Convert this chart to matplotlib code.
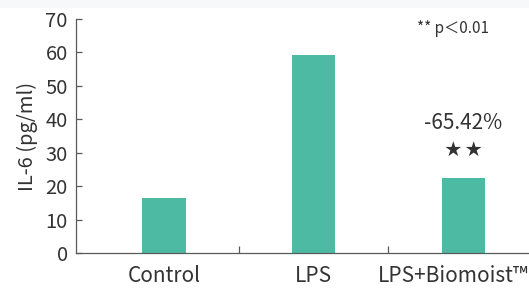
import numpy as np
import matplotlib
matplotlib.use('Agg')
import matplotlib.pyplot as plt
import matplotlib.transforms as mtransforms

plt.rcParams['font.family'] = ['Noto Sans CJK SC', 'DejaVu Sans']

# data
groups = ['Control', 'LPS', 'LPS+Biomoist\u2122']
il6 = [16.4, 59.1, 22.4]
y_ticks = [0, 10, 20, 30, 40, 50, 60, 70]
change_txt = '-65.42%'
sig_txt = '\u2605 \u2605'
note_txt = '** p\uff1c0.01'

bar_col = '#4dbba3'
txt_col = '#333333'
axis_col = '#595959'

fig = plt.figure(figsize=(5.29, 2.88), dpi=100)
fig.patch.set_facecolor('white')
# faint grey strip at the very top
fig.patches.append(plt.Rectangle((0, 0.972), 1, 0.028, transform=fig.transFigure,
                                 facecolor='#f7f8fa', edgecolor='none', zorder=0))

ax = fig.add_axes([0.1437, 0.1215, 0.8563, 0.8125])
x = np.arange(len(groups))
ax.bar(x, il6, width=0.29, color=bar_col, zorder=2)

ax.set_xlim(-0.589, 2.44)
ax.set_ylim(0, 70)
ax.set_yticks(y_ticks)
ax.set_xticks(x)
ax.set_xticklabels(groups)
# category separators on the x axis
ax.set_xticks([0.5, 1.5], minor=True)
ax.tick_params(axis='x', which='major', length=0, pad=8.5, labelsize=15, labelcolor=txt_col)
ax.tick_params(axis='x', which='minor', direction='in', length=5, width=0.9, color=axis_col)
ax.tick_params(axis='y', direction='in', length=4, width=0.9, color=axis_col,
               pad=6, labelsize=14.5, labelcolor=txt_col)

for s in ['top', 'right']:
    ax.spines[s].set_visible(False)
for s in ['left', 'bottom']:
    ax.spines[s].set_color(axis_col)
    ax.spines[s].set_linewidth(0.9)

ax.set_ylabel('IL-6 (pg/ml)', fontsize=14.5, color=txt_col, labelpad=5)

# nudge last label left so it fits in the figure
lab = ax.get_xticklabels()[2]
lab.set_transform(lab.get_transform() + mtransforms.ScaledTranslation(-0.1, 0, fig.dpi_scale_trans))

ax.text(2, il6[2] + 16.4, change_txt, ha='center', va='center', fontsize=15, color=txt_col)
ax.text(2, il6[2] + 8.3, sig_txt, ha='center', va='center', fontsize=12, color=txt_col)
ax.text(1.93, 67.2, note_txt, ha='center', va='center', fontsize=11, color=txt_col)

fig.savefig('out.png', dpi=100)
